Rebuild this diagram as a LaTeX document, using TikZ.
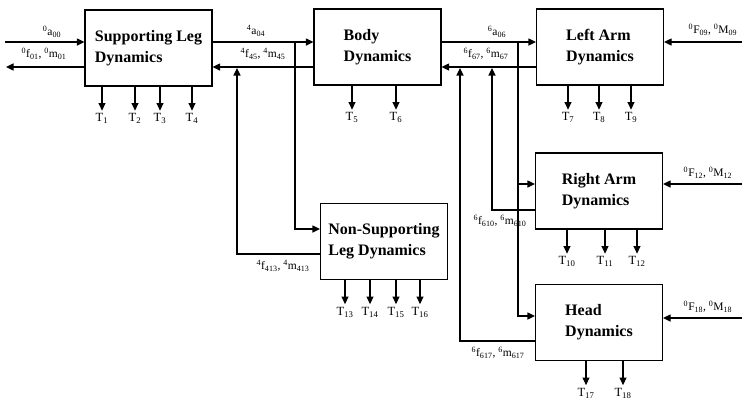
\documentclass[tikz,border=0pt]{standalone}
\usepackage{fontspec}
\setmainfont{Liberation Serif}
\usetikzlibrary{arrows.meta, positioning}
\tikzset{
  % blocco di dinamica
  dynbox/.style={draw=black, line width=1.2pt, minimum width=127pt, minimum height=76pt,
    align=left, inner sep=0pt, font=\fontsize{16}{21}\selectfont\bfseries},
  % segnale (forze, accelerazioni, coppie)
  sig/.style={line width=1.2pt, -{Triangle[length=7.5pt, width=7pt]}},
  % etichette dei segnali
  lbl/.style={inner sep=0pt, font=\fontsize{11.5}{13}\selectfont},
  % coppie ai giunti
  tlbl/.style={below, inner sep=2.5pt, font=\fontsize{12.5}{14}\selectfont},
}
\newcommand{\frm}[3]{\textsuperscript{#1}#2\textsubscript{#3}}

\begin{document}
\begin{tikzpicture}[x=1pt, y=-1pt]
  \useasboundingbox (0,0) rectangle (742,405);
  \node[dynbox] (sl) at (148.5,48) {Supporting Leg\\Dynamics};
  \node[dynbox] (bd) at (377.5,47) {Body\\Dynamics};
  \node[dynbox] (la) at (600,47) {Left Arm\\Dynamics};
  \node[dynbox] (ra) at (599,191) {Right Arm\\Dynamics};
  \node[dynbox] (hd) at (599,322.5) {Head\\Dynamics};
  \node[dynbox] (ns) at (384,241.5) {Non-Supporting\\Leg Dynamics};
  \coordinate (inl) at (5,42);
  \coordinate (outl) at (6,67);
  \coordinate (j04) at (295,42);
  \coordinate (j45) at (237,68);
  \coordinate (j06) at (518,42);
  \coordinate (j610) at (492,68);
  \coordinate (j617) at (460,68);
  \coordinate (fla) at (742,42);
  \coordinate (fra) at (742,184);
  \coordinate (fhd) at (742,318);
  \draw[sig] (inl) -- (sl.west |- inl);
  \draw[sig] (sl.west |- outl) -- (outl);
  \draw[sig] (sl.east |- 0,42) -- (bd.west |- 0,42);
  \draw[sig] (bd.west |- 0,67) -- (sl.east |- 0,67);
  \draw[sig] (j04) |- (ns.west |- 0,229);
  \draw[sig] (ns.west |- 0,254) -| (j45);
  \draw[sig] (bd.east |- 0,42) -- (la.west |- 0,42);
  \draw[sig] (la.west |- 0,67) -- (bd.east |- 0,67);
  \draw[sig] (j06) |- (ra.west |- 0,184);
  \draw[sig] (j06) |- (hd.west |- 0,316);
  \draw[sig] (ra.west |- 0,210) -| (j610);
  \draw[sig] (hd.west |- 0,341) -| (j617);
  \draw[sig] (fla) -- (la.east |- fla);
  \draw[sig] (fra) -- (ra.east |- fra);
  \draw[sig] (fhd) -- (hd.east |- fhd);
  \node[lbl] (la00) at (52,32) {\frm{0}{a}{00}};
  \node[lbl] (lf01) at (44,54) {\frm{0}{f}{01}, \frm{0}{m}{01}};
  \node[lbl] (la04) at (256,31) {\frm{4}{a}{04}};
  \node[lbl] (lf45) at (263,54) {\frm{4}{f}{45}, \frm{4}{m}{45}};
  \node[lbl] (lf413) at (283,266) {\frm{4}{f}{413}, \frm{4}{m}{413}};
  \node[lbl] (la06) at (497,32) {\frm{6}{a}{06}};
  \node[lbl] (lf67) at (486,54) {\frm{6}{f}{67}, \frm{6}{m}{67}};
  \node[lbl] (lf610) at (500,221) {\frm{6}{f}{610}, \frm{6}{m}{610}};
  \node[lbl] (lf617) at (498,353) {\frm{6}{f}{617}, \frm{6}{m}{617}};
  \node[lbl] (lF09) at (713,30) {\frm{0}{F}{09}, \frm{0}{M}{09}};
  \node[lbl] (lF12) at (708,173) {\frm{0}{F}{12}, \frm{0}{M}{12}};
  \node[lbl] (lF18) at (708,307) {\frm{0}{F}{18}, \frm{0}{M}{18}};
  \foreach \x/\n in {102/1,135/2,160/3,192/4}
    \draw[sig] (\x,0 |- sl.south) -- ++(0,24) node[tlbl] (t\n) {T\textsubscript{\n}};
  \foreach \x/\n in {352/5,396/6}
    \draw[sig] (\x,0 |- bd.south) -- ++(0,24) node[tlbl] (t\n) {T\textsubscript{\n}};
  \foreach \x/\n in {568/7,599/8,631/9}
    \draw[sig] (\x,0 |- la.south) -- ++(0,24) node[tlbl] (t\n) {T\textsubscript{\n}};
  \foreach \x/\n in {567/10,605/11,637/12}
    \draw[sig] (\x,0 |- ra.south) -- ++(0,24) node[tlbl] (t\n) {T\textsubscript{\n}};
  \foreach \x/\n in {345/13,370/14,396/15,420/16}
    \draw[sig] (\x,0 |- ns.south) -- ++(0,24) node[tlbl] (t\n) {T\textsubscript{\n}};
  \foreach \x/\n in {586/17,623/18}
    \draw[sig] (\x,0 |- hd.south) -- ++(0,24) node[tlbl] (t\n) {T\textsubscript{\n}};
\end{tikzpicture}
\end{document}
